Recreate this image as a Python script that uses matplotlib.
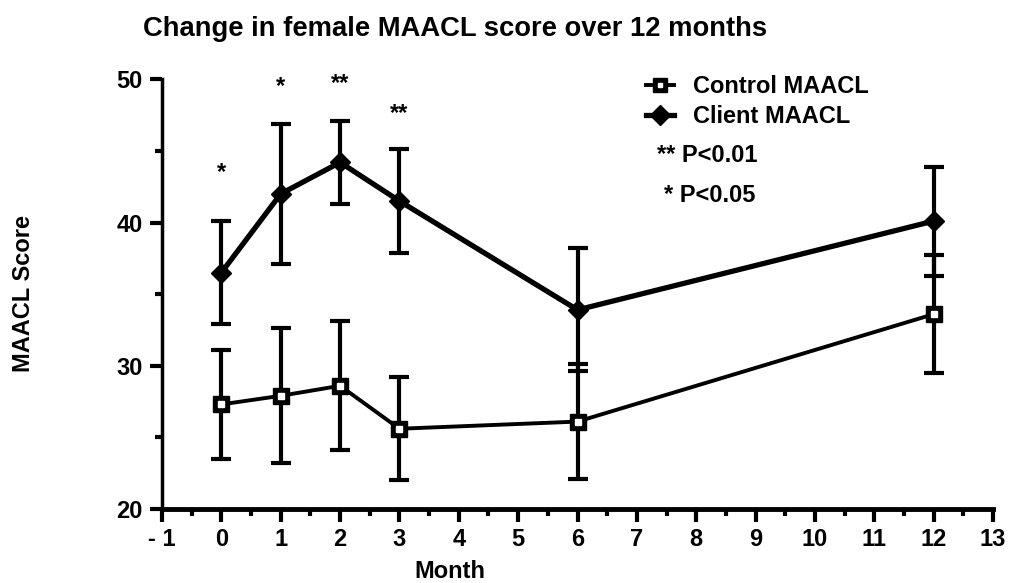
import numpy as np
import matplotlib
matplotlib.use("Agg")
import matplotlib.pyplot as plt
from matplotlib.lines import Line2D

plt.rcParams['font.family'] = ['Liberation Sans', 'DejaVu Sans']
plt.rcParams['font.weight'] = 'bold'

months = [0, 1, 2, 3, 6, 12]

client_mean = [36.5, 42.0, 44.2, 41.5, 33.9, 40.1]
client_err = [3.6, 4.9, 2.9, 3.6, 4.3, 3.8]

control_mean = [27.3, 27.9, 28.6, 25.6, 26.1, 33.6]
control_err = [3.8, 4.7, 4.5, 3.6, 4.0, 4.1]

star_months = [0, 1, 2, 3]
star_labels = ["*", "*", "**", "**"]
star_heights = [43.5, 49.5, 49.7, 47.6]

fig = plt.figure(figsize=(10.19, 5.83), dpi=100)
ax = fig.add_axes([0.159, 0.127, 0.8155, 0.737])

# control
ax.errorbar(months, control_mean, yerr=control_err, color="black", lw=2.8,
            elinewidth=3, capsize=7, capthick=3, zorder=2)
ax.plot(months, control_mean, ls="none", marker="s", ms=11, mfc="black", mec="black", zorder=3)
ax.plot(months, control_mean, ls="none", marker="s", ms=4, mfc="white", mec="white", zorder=4)

# client
ax.errorbar(months, client_mean, yerr=client_err, color="black", lw=3.8,
            elinewidth=3, capsize=7, capthick=3, zorder=2)
ax.plot(months, client_mean, ls="none", marker="D", ms=10, mfc="black", mec="black", zorder=3)

for m, s, h in zip(star_months, star_labels, star_heights):
    ax.text(m, h, s, ha="center", va="center", fontsize=17, fontweight="bold")

ax.set_xlim(-1, 13)
ax.set_ylim(20, 50)
ax.set_xticks(np.arange(-1, 14))
ax.set_xticklabels(["- 1"] + [str(i) for i in range(0, 14)])
ax.set_xticks(np.arange(-0.5, 13, 1), minor=True)
ax.set_yticks([20, 30, 40, 50])
ax.set_yticks([25, 35, 45], minor=True)

for sp in ["top", "right"]:
    ax.spines[sp].set_visible(False)
ax.spines["left"].set_linewidth(2.5)
ax.spines["bottom"].set_linewidth(3.5)
ax.tick_params(axis="both", which="major", direction="out", length=9, width=3,
               labelsize=17, pad=5)
ax.tick_params(axis="both", which="minor", direction="out", length=5, width=3)

fig.text(0.4416, 0.019, "Month", ha="center", va="center",
         fontsize=17, fontweight="bold")
fig.text(0.023, 0.497, "MAACL Score", rotation=90, ha="center", va="center",
         fontsize=17, fontweight="bold")
fig.text(0.140, 0.950, "Change in female MAACL score over 12 months",
         fontsize=19.7, fontweight="bold", ha="left", va="center")

ctrl_handle = (
    Line2D([0], [0], color="black", lw=2.8, marker="s", ms=10, mfc="black", mec="black"),
    Line2D([0], [0], ls="none", marker="s", ms=3.5, mfc="white", mec="white"),
)
client_handle = Line2D([0], [0], color="black", lw=3.8, marker="D", ms=10, mfc="black", mec="black")
leg = ax.legend([ctrl_handle, client_handle], ["Control MAACL", "Client MAACL"], loc="upper left",
                bbox_to_anchor=(0.557, 1.059), frameon=False, fontsize=17,
                handlelength=1.2, handletextpad=0.8, labelspacing=0.3)
fig.text(0.645, 0.734, "** P<0.01", fontsize=17, fontweight="bold", ha="left", va="center")
fig.text(0.652, 0.665, "* P<0.05", fontsize=17, fontweight="bold", ha="left", va="center")

fig.savefig("out.png", dpi=100)
